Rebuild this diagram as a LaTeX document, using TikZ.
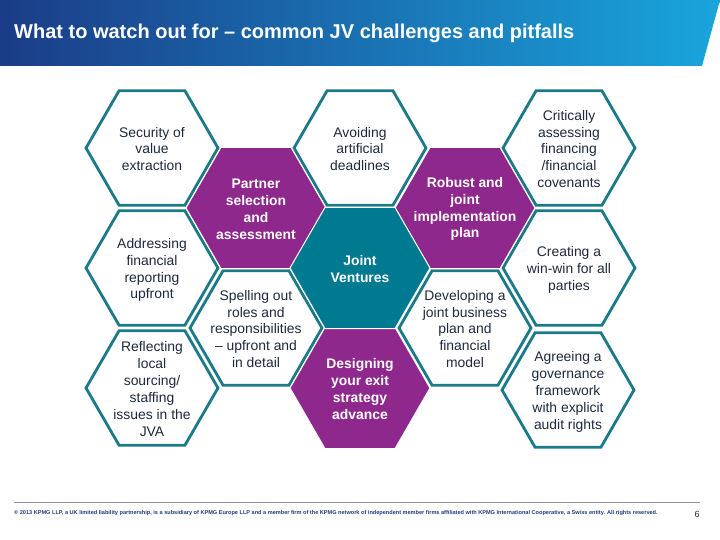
\documentclass[tikz,border=0pt]{standalone}
\usepackage{fontspec}
\setmainfont{Liberation Sans}
\usetikzlibrary{shapes.geometric}
\definecolor{hexline}{HTML}{1B7A88}
\definecolor{jointfill}{HTML}{007A91}
\definecolor{keyfill}{HTML}{8E288C}
\definecolor{bodytext}{HTML}{1E2A3E}
\definecolor{bardark}{HTML}{1B3C87}
\definecolor{barmid}{HTML}{1C4F9C}
\definecolor{barlight}{HTML}{19A5DC}
\tikzset{
    hexbase/.style={regular polygon, regular polygon sides=6, inner sep=0pt},
    hexopen/.style={hexbase, draw=hexline, fill=white, line width=2.8pt, minimum size=132pt},
    hexkey/.style={hexbase, draw=white, fill=keyfill, line width=1pt, minimum size=140pt},
    hexjoint/.style={hexbase, draw=white, fill=jointfill, line width=1pt, minimum size=140pt},
    opentext/.style={align=center, yshift=-1pt, text=bodytext, font=\fontsize{13.9}{16.9}\selectfont},
    keytext/.style={align=center, yshift=-1pt, text=white, font=\fontsize{13.9}{16.9}\selectfont\bfseries},
}
\begin{document}
\begin{tikzpicture}[x=1pt, y=-1pt]
    \useasboundingbox (0,0) rectangle (720,540);

    % Title bar
    \shade[left color=bardark, middle color=barmid, right color=barlight] (0,0) -- (720,0) -- (702,66) -- (0,66) -- cycle;
    \node[anchor=base west, text=white, inner sep=0pt, font=\fontsize{20}{22}\selectfont\bfseries] (title) at (14,38.5) {What to watch out for -- common JV challenges and pitfalls};

    % Outer hexagons
    \node[hexopen] (security) at (152,148) {};
    \node[hexopen] (reporting) at (152,268) {};
    \node[hexopen] (sourcing) at (152,388) {};
    \node[hexopen] (roles) at (256,328) {};
    \node[hexopen] (deadlines) at (360,148) {};
    \node[hexopen] (plan) at (465,328) {};
    \node[hexopen] (covenants) at (569,148) {};
    \node[hexopen] (winwin) at (569,268) {};
    \node[hexopen] (governance) at (568,390) {};

    % Filled hexagons
    \node[hexkey] (partner) at (256,208) {};
    \node[hexkey] (robust) at (465,208) {};
    \node[hexkey] (exit) at (360,388) {};
    \node[hexjoint] (joint) at (360,268) {};

    % Outer texts
    \node[opentext] (securitytext) at (security.center) {Security of\\value\\extraction};
    \node[opentext, yshift=-1pt] (reportingtext) at (reporting.center) {Addressing\\financial\\reporting\\upfront};
    \node[opentext] (sourcingtext) at (sourcing.center) {Reflecting\\local\\sourcing/\\staffing\\issues in the\\JVA};
    \node[opentext] (rolestext) at (roles.center) {Spelling out\\roles and\\responsibilities\\-- upfront and\\in detail};
    \node[opentext] (deadlinestext) at (deadlines.center) {Avoiding\\artificial\\deadlines};
    \node[opentext] (plantext) at (plan.center) {Developing a\\joint business\\plan and\\financial\\model};
    \node[opentext] (covenantstext) at (covenants.center) {Critically\\assessing\\financing\\/financial\\covenants};
    \node[opentext, yshift=-1pt] (winwintext) at (winwin.center) {Creating a\\win-win for all\\parties};
    \node[opentext, yshift=-1pt] (governancetext) at (governance.center) {Agreeing a\\governance\\framework\\with explicit\\audit rights};

    % Filled texts
    \node[keytext] (partnertext) at (partner.center) {Partner\\selection\\and\\assessment};
    \node[keytext] (robusttext) at (robust.center) {Robust and\\joint\\implementation\\plan};
    \node[keytext] (exittext) at (exit.center) {Designing\\your exit\\strategy\\advance};
    \node[keytext] (jointtext) at (joint.center) {Joint\\Ventures};

    % Footer
    \draw[gray!85, line width=0.8pt] (14,502) -- (700,502);
    \node[anchor=base west, text=bardark, inner sep=0pt, font=\fontsize{5.58}{6}\selectfont\bfseries] (legal) at (14,514) {\textcopyright{} 2013 KPMG LLP, a UK limited liability partnership, is a subsidiary of KPMG Europe LLP and a member firm of the KPMG network of independent member firms affiliated with KPMG International Cooperative, a Swiss entity. All rights reserved.};
    \node[anchor=base, text=bodytext, inner sep=0pt, font=\fontsize{9}{10}\selectfont] (pagenum) at (697,517.5) {6};
\end{tikzpicture}
\end{document}
